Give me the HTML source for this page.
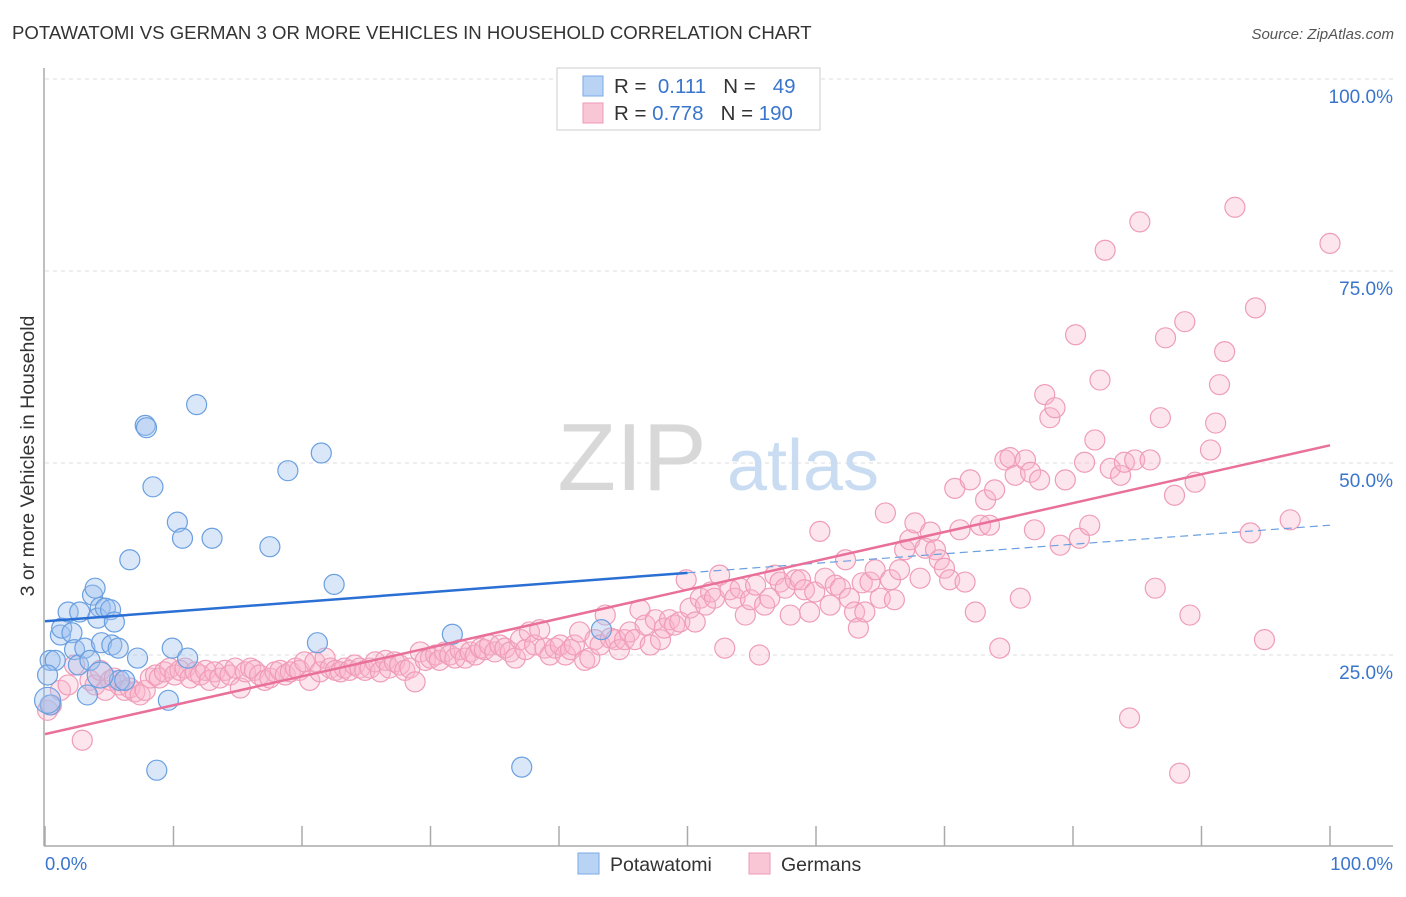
<!DOCTYPE html>
<html><head><meta charset="utf-8"><style>
body{margin:0;background:#fff;font-family:"Liberation Sans",sans-serif}
svg text{font-family:"Liberation Sans",sans-serif}
</style></head><body>
<svg id="chart" width="1406" height="892" xmlns="http://www.w3.org/2000/svg">
<text x="12" y="39" font-size="18.6" fill="#333">POTAWATOMI VS GERMAN 3 OR MORE VEHICLES IN HOUSEHOLD CORRELATION CHART</text>
<text x="1394" y="39" font-size="15" fill="#555" text-anchor="end" font-style="italic">Source: ZipAtlas.com</text>
<g id="grid"></g>
<g>
<text x="632" y="490" font-size="96" fill="#d8d8d8" font-family="Liberation Serif" text-anchor="middle">ZIP</text>
<text x="803" y="490" font-size="72" fill="#c9dcf2" text-anchor="middle">atlas</text>
</g>
<line x1="44" y1="68" x2="44" y2="846" stroke="#aaa" stroke-width="1.5"/>
<line x1="44" y1="846" x2="1393" y2="846" stroke="#aaa" stroke-width="1.5"/>
<g id="ticks"></g>
<text transform="translate(34,456) rotate(-90)" font-size="19.5" fill="#333" text-anchor="middle">3 or more Vehicles in Household</text>
<text x="45" y="870" font-size="18.5" fill="#3a75cc">0.0%</text>
<text x="1393" y="870" font-size="18.5" fill="#3a75cc" text-anchor="end">100.0%</text>
<g id="pink"></g>
<g id="blue"></g>
<g id="lines"></g>
<g>
<rect x="557" y="68" width="263" height="62" fill="#fff" stroke="#ccc"/>
<rect x="583" y="76" width="20" height="20" fill="#b9d3f5" stroke="#7aa9e6"/>
<rect x="583" y="103" width="20" height="20" fill="#f9c6d6" stroke="#ee9ab6"/>
<text x="614" y="93" font-size="20.5" fill="#333">R = <tspan fill="#3a75cc">&#160;0.111</tspan>&#160;&#160;&#160;N = <tspan fill="#3a75cc">&#160;&#160;49</tspan></text>
<text x="614" y="120" font-size="20.5" fill="#333">R = <tspan fill="#3a75cc">0.778</tspan>&#160;&#160;&#160;N = <tspan fill="#3a75cc">190</tspan></text>
</g>
<g>
<rect x="578" y="853" width="21" height="21" fill="#b9d3f5" stroke="#7aa9e6"/>
<text x="610" y="871" font-size="19.5" fill="#333">Potawatomi</text>
<rect x="749" y="853" width="21" height="21" fill="#f9c6d6" stroke="#ee9ab6"/>
<text x="781" y="871" font-size="19.5" fill="#333">Germans</text>
</g>
</svg>
<script>
const yTicks=[25,50,75,100];
const yTickLabels=["25.0%","50.0%","75.0%","100.0%"];
const xTicks=[0,10,20,30,40,50,60,70,80,90,100];
const blueX=[0.4,0.8,0.2,0.4,1.2,1.3,1.8,2.1,2.3,2.6,2.7,3.1,3.3,3.5,3.7,3.9,4.3,4.1,4.4,4.7,5.1,5.2,5.4,5.7,5.8,6.2,6.6,7.2,7.8,7.9,8.4,8.7,9.6,9.9,10.3,10.7,11.1,11.8,13.0,17.5,18.9,21.2,21.5,22.5,31.7,37.1,43.3,0.2,4.3];
const blueY=[24.3,24.3,22.4,18.5,27.6,28.5,30.6,27.9,25.7,23.7,30.6,25.9,19.8,24.3,32.8,33.7,31.2,29.8,26.6,31.1,30.9,26.3,29.3,25.9,21.7,21.7,37.4,24.6,54.9,54.6,46.9,10.0,19.1,25.9,42.3,40.2,24.6,57.6,40.2,39.1,49.0,26.6,51.3,34.2,27.7,10.4,28.3,19.1,22.4];
const pinkX=[0.2,0.5,1.2,1.8,2.9,2.3,3.5,3.9,4.3,4.7,5.1,5.4,5.8,6.2,6.6,7.0,7.4,7.8,8.2,8.6,8.9,9.3,9.7,10.1,10.5,10.9,11.3,11.7,12.1,12.5,12.8,13.2,13.6,14.0,14.4,14.8,15.2,15.6,16.0,16.3,16.7,17.1,17.5,17.9,18.3,18.7,19.1,19.5,19.8,20.2,20.6,21.0,21.4,21.8,22.2,22.6,23.0,23.3,23.7,24.1,24.5,24.9,25.3,25.7,26.1,26.5,26.8,27.2,27.6,28.0,28.4,28.8,29.2,29.6,30.0,30.4,30.7,31.1,31.5,31.9,32.3,32.7,33.1,33.5,33.9,34.2,34.6,35.0,35.4,35.8,36.2,36.6,37.0,37.4,37.7,38.1,38.5,38.9,39.3,39.7,40.1,40.5,40.9,41.2,41.6,42.0,42.4,42.8,43.2,43.6,44.0,44.4,44.7,45.1,45.5,45.9,46.3,46.7,47.1,47.5,47.9,48.2,48.6,49.0,49.4,49.9,50.2,50.6,51.0,51.4,51.8,52.1,52.5,52.9,53.3,53.7,54.1,54.5,54.9,55.3,55.6,56.0,56.4,56.8,57.2,57.6,58.0,58.4,58.8,59.1,59.5,59.9,60.3,60.7,61.1,61.5,61.9,62.3,62.6,63.0,63.3,63.6,63.8,64.2,64.6,65.0,65.4,65.8,66.1,66.5,66.9,67.3,67.7,68.1,68.5,68.9,69.3,69.6,70.0,70.4,70.8,71.2,71.6,72.0,72.4,72.8,73.2,73.5,73.9,74.3,74.7,75.1,75.5,75.9,76.3,76.7,77.0,77.4,77.8,78.2,78.6,79.0,79.4,80.2,80.5,80.9,81.3,81.7,82.1,82.5,82.9,83.7,84.0,84.4,84.8,85.2,86.0,86.4,86.8,87.2,87.9,88.3,88.7,89.1,89.5,90.7,91.1,91.4,91.8,92.6,93.8,94.2,94.9,96.9,100];
const pinkY=[17.8,18.5,20.4,21.1,13.9,23.7,21.7,21.1,23.0,20.4,21.7,22.0,21.1,20.4,20.7,20.2,19.8,20.4,22.0,22.4,22.0,22.8,23.3,22.4,23.0,23.3,22.0,22.8,22.4,23.0,21.7,22.8,22.0,23.0,22.4,23.3,20.7,22.8,23.3,23.0,22.4,21.7,22.0,22.8,23.0,22.4,22.8,23.3,23.0,24.1,21.7,24.1,22.8,24.6,23.3,23.0,22.8,23.3,23.0,23.7,23.3,23.0,23.3,24.1,22.8,24.3,23.3,24.1,23.7,23.0,23.3,21.5,25.4,24.3,24.6,25.0,24.3,25.4,25.0,24.6,25.7,24.6,25.4,25.0,25.9,25.7,26.3,25.4,26.3,25.9,25.4,24.6,27.0,25.7,28.0,26.3,28.3,25.9,25.0,25.9,26.3,25.0,25.7,26.3,28.0,24.3,24.6,27.0,26.3,30.2,27.2,27.0,25.7,27.0,28.0,27.0,30.9,28.9,26.3,29.6,27.0,28.5,29.6,28.9,29.3,34.8,31.1,29.3,32.4,31.5,33.2,32.4,35.4,25.9,33.5,32.4,33.7,30.2,32.2,34.1,25.0,31.5,32.4,35.4,34.5,33.7,30.2,34.8,34.8,33.5,30.6,33.2,41.1,35.0,31.5,34.1,33.7,37.4,32.4,30.6,28.5,34.4,30.6,34.5,36.1,32.4,43.5,34.8,32.2,36.1,38.7,40.0,42.2,35.0,38.9,41.0,38.7,37.4,36.3,34.8,46.7,41.3,34.5,47.8,30.6,41.9,45.2,41.9,46.5,25.9,50.4,50.7,48.4,32.4,50.4,48.8,41.3,47.8,58.9,55.9,57.2,39.3,47.8,66.7,40.2,50.1,41.9,53.0,60.8,77.7,49.3,48.4,50.1,16.8,50.4,81.4,50.4,33.7,55.9,66.3,45.8,9.6,68.4,30.2,47.5,51.7,55.2,60.2,64.5,83.3,40.9,70.2,27.0,42.6,78.6];
const blueTrendX=[0,50,100];
const blueTrendY=[29.4,35.7,41.9];
const pinkTrendX=[0,100];
const pinkTrendY=[14.7,52.3];

const NS="http://www.w3.org/2000/svg";
function sx(v){return 45+v*12.85;}
function sy(v){return 847-v*7.68;}
function mk(tag,attrs,parent){const e=document.createElementNS(NS,tag);for(const k in attrs)e.setAttribute(k,attrs[k]);parent.appendChild(e);return e;}
const grid=document.getElementById('grid');
yTicks.forEach((t,i)=>{
  const l=mk('line',{x1:45,x2:1393,y1:sy(t),y2:sy(t),stroke:'#ddd','stroke-dasharray':'4,4'},grid);
  
  
  const tx=mk('text',{x:1393,y:sy(t)+24,'font-size':19,fill:'#3a75cc','text-anchor':'end'},grid);
  tx.textContent=yTickLabels[i];
  
  
});
const tk=document.getElementById('ticks');
xTicks.forEach(t=>{
  const l=mk('line',{x1:sx(t),x2:sx(t),y1:826,y2:846,stroke:'#aaa','stroke-width':1.5},tk);
  
  
});
const pg=document.getElementById('pink');
pinkX.forEach((x,i)=>{
  const c=mk('circle',{cx:sx(x),cy:sy(pinkY[i]),r:10,fill:'rgba(248,180,202,0.35)',stroke:'#ef9cb8','stroke-width':1.2},pg);
  
  
});
const bg=document.getElementById('blue');
blueX.forEach((x,i)=>{
  const c=mk('circle',{cx:sx(x),cy:sy(blueY[i]),r:(i>=47?13:10),fill:'rgba(160,196,240,0.4)',stroke:'#6a9fe0','stroke-width':1.2},bg);
  
  
});
const lg=document.getElementById('lines');
const b1=mk('line',{x1:sx(blueTrendX[0]),y1:sy(blueTrendY[0]),x2:sx(blueTrendX[1]),y2:sy(blueTrendY[1]),stroke:'#2a6fd4','stroke-width':2.5},lg);


const b2=mk('line',{x1:sx(blueTrendX[1]),y1:sy(blueTrendY[1]),x2:sx(blueTrendX[2]),y2:sy(blueTrendY[2]),stroke:'#6a9fe0','stroke-width':1.2,'stroke-dasharray':'8,5'},lg);


const p1=mk('line',{x1:sx(pinkTrendX[0]),y1:sy(pinkTrendY[0]),x2:sx(pinkTrendX[1]),y2:sy(pinkTrendY[1]),stroke:'#e8709a','stroke-width':2.5},lg);


</script>
</body></html>
